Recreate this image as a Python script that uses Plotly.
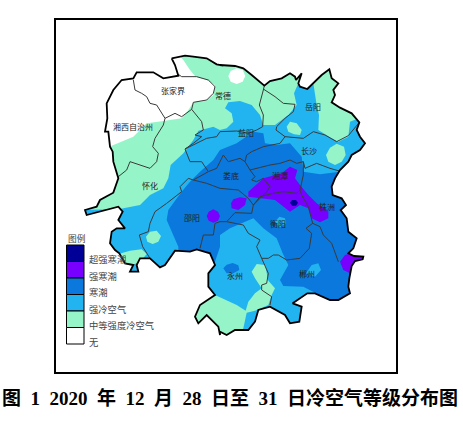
import plotly.graph_objects as go

# map vertices are read off the picture, in image pixels after to_px()
# each sheet is a 180px crop at 3x, so the numbers stay as they were read
SHEETS = {"nw": (50, 15), "ne": (220, 15), "sw": (50, 190), "se": (220, 190)}


def to_px(sheet, pts):
    ox, oy = SHEETS[sheet]
    return [(ox + x / 3, oy + y / 3) for x, y in pts]


province = (
    to_px("nw", [(365, 130), (405, 122), (430, 125), (470, 130), (500, 148), (520, 152)])
    + to_px("ne", [(0, 150), (45, 153), (70, 160), (95, 180), (133, 212), (150, 198), (185, 190), (210, 175),
                   (225, 185), (228, 195), (245, 175), (235, 205), (240, 215), (262, 222), (280, 205), (305, 180),
                   (328, 163), (335, 190), (355, 205), (340, 225), (345, 240), (335, 262), (360, 278), (395, 295),
                   (418, 322), (410, 345), (420, 365), (435, 385), (420, 405), (395, 420), (385, 440), (360, 465),
                   (345, 490), (335, 515), (338, 540)])
    + to_px("se", [(338, 15), (365, 25), (378, 45), (362, 60), (380, 85), (385, 125), (410, 145), (400, 175),
                   (385, 190), (402, 198), (430, 200), (428, 208), (405, 213), (395, 228), (388, 265), (385, 290),
                   (390, 310), (370, 320), (355, 330), (330, 330), (305, 320), (285, 310), (262, 310), (235, 328),
                   (218, 340), (245, 350), (238, 395), (210, 400), (195, 375), (150, 350), (115, 360), (105, 395),
                   (85, 420), (45, 420), (20, 435), (0, 425)])
    + to_px("sw", [(510, 435), (505, 410), (470, 375), (445, 400), (435, 380), (450, 345), (495, 315), (475, 290),
                   (475, 250), (495, 225), (480, 190), (440, 178), (420, 185), (375, 182), (345, 225), (330, 232),
                   (300, 205), (270, 205), (260, 225), (265, 245), (240, 245), (250, 225), (225, 220), (208, 190),
                   (195, 180), (180, 160), (185, 125), (200, 115), (225, 115), (205, 90), (218, 65), (205, 50),
                   (165, 60), (110, 75), (105, 60), (140, 50), (150, 30), (190, 8)])
    + to_px("nw", [(205, 490), (190, 440), (188, 410), (180, 395), (175, 350), (165, 350), (172, 310), (170, 265),
                   (190, 225), (215, 195), (250, 190), (260, 172), (310, 172), (340, 190), (385, 182), (375, 150)])
)

# colour areas, later ones paint over earlier ones; the province mask trims them
none_area = to_px("nw", [(100, 100), (370, 100), (400, 135), (420, 165), (437, 185), (470, 195), (495, 210),
                         (490, 240), (465, 258), (430, 262), (415, 285), (395, 310), (340, 318), (290, 325),
                         (250, 365), (185, 392), (100, 400)])
none_spot = to_px("ne", [(25, 183), (32, 168), (50, 160), (68, 165), (76, 183), (68, 200), (50, 207), (32, 200)])

cold_area = (
    to_px("sw", [(60, 60), (205, 58), (270, 45)])
    + to_px("nw", [(300, 540), (340, 520), (355, 490), (362, 450), (400, 415), (430, 375), (445, 347), (490, 335)])
    + to_px("ne", [(0, 345), (20, 340), (40, 320), (35, 295), (15, 280), (25, 262), (60, 258), (95, 270), (120, 300),
                   (130, 330), (165, 330), (205, 300), (230, 270), (222, 235), (235, 205), (280, 205), (290, 270),
                   (297, 300), (295, 345), (335, 370), (355, 380), (385, 365), (390, 320), (440, 300), (500, 500)])
    + to_px("se", [(500, 500), (200, 480)])
    + to_px("sw", [(300, 300), (60, 300)])
)
green_lobes = [
    to_px("ne", [(200, 335), (210, 320), (230, 325), (245, 345), (240, 360), (222, 358), (205, 350)]),
    to_px("ne", [(318, 420), (330, 398), (350, 386), (372, 395), (377, 420), (365, 440), (345, 450), (325, 440)]),
    to_px("sw", [(288, 140), (300, 125), (320, 122), (333, 138), (325, 155), (308, 162), (292, 155)]),
    to_px("sw", [(195, 195), (240, 182), (275, 178), (290, 192), (275, 210), (245, 228), (195, 235)]),
    to_px("se", [(-15, 315), (0, 322), (50, 345), (77, 362), (85, 335), (105, 310), (125, 295), (105, 265), (95, 245),
                 (110, 222), (135, 225), (145, 272), (165, 295), (155, 315), (145, 345), (105, 362), (80, 368),
                 (70, 415), (50, 450), (-60, 470), (-110, 410), (-80, 350)]),
]

wave_area = (
    to_px("sw", [(385, 190), (385, 170), (350, 90), (355, 60), (395, 5)])
    + to_px("nw", [(420, 500), (450, 470), (490, 435)])
    + to_px("ne", [(0, 405), (50, 385), (100, 350), (130, 355), (135, 385), (170, 390), (210, 385), (245, 425),
                   (250, 470), (300, 478), (360, 470), (420, 480)])
    + to_px("se", [(500, 100), (500, 340), (285, 330), (285, 308), (250, 290), (190, 288), (180, 270), (205, 225),
                   (188, 190), (170, 145), (130, 115), (100, 85), (65, 100), (30, 115), (0, 120)])
    + to_px("sw", [(540, 115), (510, 135), (510, 170), (490, 230), (440, 200)])
)
cold_spots = [
    to_px("se", [(165, 95), (178, 80), (195, 85), (198, 100), (180, 112)]),
    to_px("se", [(258, 250), (275, 225), (295, 220), (303, 240), (285, 260)]),
]
wave_spots = [to_px("se", [(10, 235), (20, 224), (38, 219), (55, 226), (58, 240), (40, 250), (20, 250)])]

strong_area = (
    to_px("ne", [(85, 530), (130, 490), (185, 475), (210, 455), (232, 465), (225, 490), (240, 510), (265, 540)])
    + to_px("se", [(290, 40), (325, 65), (325, 85), (300, 97), (275, 85), (265, 55), (240, 45), (210, 65),
                   (165, 30), (120, 25), (85, 20)])
)
strong_spots = [
    to_px("se", [(33, 40), (40, 28), (60, 22), (80, 25), (75, 45), (55, 60), (35, 55)]),
    to_px("sw", [(470, 78), (476, 65), (490, 58), (504, 65), (510, 78), (504, 92), (490, 98), (476, 92)]),
    to_px("se", [(360, 215), (375, 195), (392, 190), (415, 198), (435, 205), (400, 225), (390, 250), (370, 240)]),
]
extreme_spot = to_px("se", [(210, 38), (216, 30), (228, 30), (234, 38), (228, 47), (216, 47)])

# city borders
borders = [
    to_px("nw", [(250, 195), (255, 225), (275, 235), (290, 245), (300, 265), (320, 270), (345, 310), (375, 295),
                 (395, 305), (425, 283), (430, 262), (470, 255), (490, 235), (495, 215), (475, 195), (440, 185),
                 (395, 185), (385, 178)]),
    to_px("nw", [(345, 310), (340, 330), (315, 370), (308, 395), (325, 415), (320, 440), (300, 460), (270, 450),
                 (240, 440), (230, 465), (205, 485)]),
    to_px("nw", [(425, 283), (455, 320), (460, 345), (435, 360), (455, 365), (430, 385), (405, 402), (420, 440),
                 (455, 440), (475, 470), (430, 495), (415, 490), (390, 515), (395, 530)])
    + to_px("sw", [(395, 5), (350, 40), (315, 65), (300, 100), (295, 125), (268, 135), (278, 170), (300, 205)]),
    to_px("nw", [(405, 402), (430, 390), (470, 370), (500, 365)])
    + to_px("ne", [(0, 350), (50, 348), (85, 355), (110, 345), (128, 335), (130, 300), (118, 270), (130, 225),
                   (133, 212)]),
    to_px("ne", [(130, 222), (165, 245), (190, 265), (225, 268), (220, 290), (195, 310), (170, 335), (168, 345),
                 (195, 365), (250, 370), (280, 350), (315, 360), (350, 380), (385, 362), (418, 322)]),
    to_px("ne", [(195, 365), (180, 385), (130, 395), (95, 410), (80, 420), (75, 440), (90, 465), (110, 460),
                 (150, 450), (180, 445), (210, 435), (230, 445), (250, 440), (255, 460), (290, 445), (330, 460),
                 (358, 468)]),
    to_px("nw", [(475, 470), (500, 460), (520, 420)]) + to_px("ne", [(25, 440), (60, 430), (75, 440)]),
    to_px("nw", [(430, 495), (470, 505), (510, 520)])
    + to_px("se", [(55, 0), (85, 25), (100, 45), (95, 70), (60, 70), (45, 68), (20, 95), (0, 95)])
    + to_px("sw", [(495, 100), (490, 135), (460, 135), (450, 175)]),
    to_px("se", [(20, 95), (70, 105), (85, 130), (115, 145), (120, 150), (110, 170), (125, 205), (145, 205),
                 (160, 195), (175, 195), (200, 210), (240, 205), (268, 175), (275, 130), (258, 115), (278, 100),
                 (300, 110), (310, 135), (335, 160), (355, 215)]),
    to_px("se", [(125, 205), (145, 250), (140, 280), (125, 285), (125, 300), (155, 320), (150, 345)]),
    to_px("ne", [(90, 465), (105, 485), (95, 495), (110, 500), (130, 490), (150, 515), (140, 530)])
    + to_px("se", [(100, 45), (120, 20), (160, 10), (190, 5), (230, 10), (240, 0)]),
    to_px("ne", [(250, 440), (250, 480), (240, 525)]) + to_px("se", [(245, 15), (265, 50), (278, 100)]),
]

# city names
city_names = ["张家界", "常德", "岳阳", "湘西自治州", "益阳", "长沙", "娄底", "湘潭", "怀化", "邵阳", "株洲", "衡阳", "永州", "郴州"]
city_x = [173, 223, 313, 133, 246, 309, 231, 280, 150, 192, 327, 278, 235, 307]
city_y = [92, 97, 108, 128, 134, 152, 177, 177, 187, 219, 208, 225, 277, 275]

# legend
legend_labels = ["超强寒潮", "强寒潮", "寒潮", "强冷空气", "中等强度冷空气", "无"]
legend_colors = ["#000096", "#7800FF", "#0A78DC", "#22B4F0", "#96F5C8", "#FFFFFF"]
legend_title = "图例"
caption = "图\u20021\u20022020\u2002年\u200212\u2002月\u200228\u2002日至\u200231\u2002日冷空气等级分布图"

CN_FONT = "Noto Sans CJK SC"
NONE_C, STRONG_C, WAVE_C, COLD_C, GREEN_C = legend_colors[5], legend_colors[1], legend_colors[2], legend_colors[3], legend_colors[4]


def area(fig, pts, color):
    xs, ys = zip(*pts)
    fig.add_trace(go.Scatter(x=list(xs) + [xs[0]], y=list(ys) + [ys[0]], mode="lines", fill="toself",
                             fillcolor=color, line=dict(width=0), hoverinfo="skip"))


fig = go.Figure()
area(fig, [(56, 20), (396, 20), (396, 372), (56, 372)], GREEN_C)
area(fig, none_area, NONE_C)
area(fig, none_spot, NONE_C)
area(fig, cold_area, COLD_C)
for poly in green_lobes:
    area(fig, poly, GREEN_C)
area(fig, wave_area, WAVE_C)
for poly in cold_spots:
    area(fig, poly, COLD_C)
for poly in wave_spots:
    area(fig, poly, WAVE_C)
area(fig, strong_area, STRONG_C)
for poly in strong_spots:
    area(fig, poly, STRONG_C)
area(fig, extreme_spot, legend_colors[0])

# white sheet with the province cut out hides whatever overflows the outline:
# one ring, frame one way round and the outline the other, joined by a slit
frame = [(55, 19), (397, 19), (397, 373), (55, 373), (55, 19)]
ring = frame + [province[0]] + province[::-1]
area(fig, ring, "#FFFFFF")
px, py = zip(*province)

for line in borders:
    xs, ys = zip(*line)
    fig.add_trace(go.Scatter(x=xs, y=ys, mode="lines", line=dict(color="#3A3A3A", width=1), hoverinfo="skip"))
fig.add_trace(go.Scatter(x=list(px) + [px[0]], y=list(py) + [py[0]], mode="lines",
                         line=dict(color="#000000", width=1.8), hoverinfo="skip"))

fig.add_trace(go.Scatter(x=city_x, y=city_y, mode="text", text=city_names, textposition="middle center",
                         textfont=dict(family=CN_FONT, size=8, color="#222222"), hoverinfo="skip"))

shapes = [dict(type="rect", x0=55, y0=19, x1=397, y1=373, line=dict(color="#000000", width=2))]
annotations = []
for i, (label, color) in enumerate(zip(legend_labels, legend_colors)):
    top = 245 + i * 16.5
    shapes.append(dict(type="rect", x0=66.5, y0=top, x1=84, y1=top + 16.5, fillcolor=color,
                       line=dict(color="#000000", width=1)))
    annotations.append(dict(x=87, y=top + 14, text=label, showarrow=False, xanchor="left", yanchor="middle",
                            font=dict(family=CN_FONT, size=9.3, color="#444444")))
annotations.append(dict(x=66, y=238, text=legend_title, showarrow=False, xanchor="left", yanchor="middle",
                        font=dict(family=CN_FONT, size=8.7, color="#444444")))
annotations.append(dict(x=230, y=398, text=caption, showarrow=False, xanchor="center", yanchor="middle",
                        font=dict(family="Liberation Serif, " + CN_FONT, size=19, color="#000000", weight="bold")))

fig.update_layout(
    width=463, height=424,
    margin=dict(l=0, r=0, t=0, b=0),
    paper_bgcolor="#FFFFFF", plot_bgcolor="#FFFFFF",
    showlegend=False,
    xaxis=dict(range=[0, 463], visible=False),
    yaxis=dict(range=[424, 0], visible=False),
    shapes=shapes, annotations=annotations,
)
fig.write_html("out.html", post_script="document.body.style.margin='0';", config={"displayModeBar": False})
